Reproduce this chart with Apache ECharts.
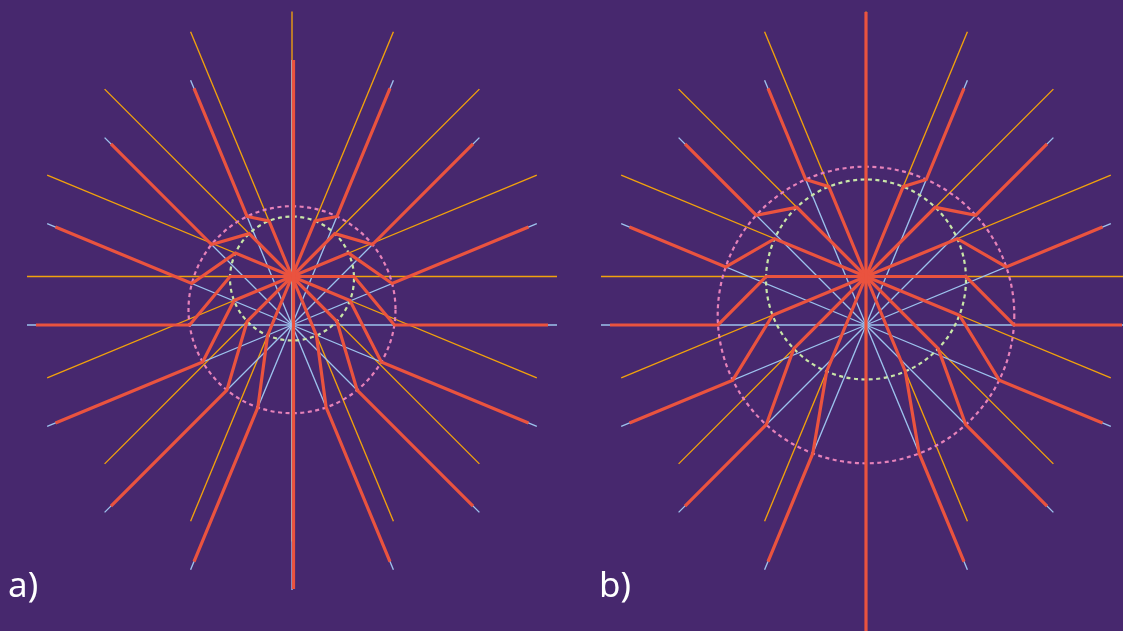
<!DOCTYPE html>
<html>
<head>
<meta charset="utf-8">
<title>Field lines of a charge that has stopped</title>
<script src="https://cdn.jsdelivr.net/npm/echarts@6/dist/echarts.min.js"></script>
<style>
  html, body { margin: 0; padding: 0; background: #47286e; }
  #chart { width: 1123px; height: 631px; }
</style>
</head>
<body>
<div id="chart"></div>
<script>
// Directions of the drawn field lines, degrees counter-clockwise from +x.
const rayAngles = [0, 22.5, 45, 67.5, 90, 112.5, 135, 157.5, 180, 202.5, 225, 247.5, 270, 292.5, 315, 337.5];
// Panel captions.
const panelLabels = ['a)', 'b)'];
// Units: origin at the extrapolated (uniform-motion) position, y up.
// Height of the actual (stopped) charge above the origin.
const chargeY = 48.5;
// Length of the rays from the stopped charge and from the extrapolated position.
const innerRayLength = 265;
const outerRayLength = 265;
// Length of the outer part of each field line, measured from the origin.
const fieldLineLength = 256;
// Inner sphere (information front of the stop): centre height and radius, per panel.
const innerCircleY = [46.5, 45.5];
const innerCircleR = [62, 100];
// Outer sphere (information front of the start of braking): centre height and radius, per panel.
const outerCircleY = [15.3, 10];
const outerCircleR = [103.5, 148.3];
// Vertical field line along the motion axis: x, lower end, upper end, per panel.
const axisLineX = [1.5, 0];
const axisLineBottom = [-264, -312];
const axisLineTop = [265, 313];

const colors = {
  bg: '#47286e',
  orange: '#f2a20c',
  blue: '#9dc3ee',
  red: '#ea533f',
  pink: '#e682ba',
  green: '#c9e6a8',
  text: '#ffffff'
};

// Point where a ray from P along unit vector d leaves the circle (C, r).
function rayCircle(P, d, C, r) {
  const fx = P[0] - C[0], fy = P[1] - C[1];
  const b = d[0] * fx + d[1] * fy;
  const c = fx * fx + fy * fy - r * r;
  const t = -b + Math.sqrt(b * b - c);
  return [P[0] + t * d[0], P[1] + t * d[1]];
}

function dir(deg) {
  const a = deg * Math.PI / 180;
  return [Math.cos(a), Math.sin(a)];
}

function panelSeries(p) {
  const U = [0, chargeY];
  const O = [0, 0];
  const innerC = [0, innerCircleY[p]];
  const outerC = [0, outerCircleY[p]];
  const orangeData = [], blueData = [], redData = [];
  rayAngles.forEach(function (deg) {
    const d = dir(deg);
    orangeData.push({ coords: [U, [U[0] + innerRayLength * d[0], U[1] + innerRayLength * d[1]]] });
    blueData.push({ coords: [O, [outerRayLength * d[0], outerRayLength * d[1]]] });
    if (deg === 90 || deg === 270) return;
    const p1 = rayCircle(U, d, innerC, innerCircleR[p]);
    const p2 = rayCircle(O, d, outerC, outerCircleR[p]);
    redData.push({ coords: [U, p1, p2, [fieldLineLength * d[0], fieldLineLength * d[1]]] });
  });
  redData.push({ coords: [[axisLineX[p], axisLineBottom[p]], [axisLineX[p], axisLineTop[p]]] });

  const base = {
    type: 'lines',
    coordinateSystem: 'cartesian2d',
    xAxisIndex: p,
    yAxisIndex: p,
    polyline: true,
    silent: true,
    clip: false,
    animation: false
  };
  return [
    Object.assign({}, base, { lineStyle: { color: colors.orange, width: 1.35, opacity: 1 }, data: orangeData }),
    Object.assign({}, base, { lineStyle: { color: colors.blue, width: 1.35, opacity: 1 }, data: blueData }),
    {
      type: 'custom',
      coordinateSystem: 'cartesian2d',
      xAxisIndex: p,
      yAxisIndex: p,
      silent: true,
      clip: false,
      animation: false,
      data: [
        [0, outerCircleY[p], outerCircleR[p], 0],
        [0, innerCircleY[p], innerCircleR[p], 1]
      ],
      renderItem: function (params, api) {
        const c = api.coord([api.value(0), api.value(1)]);
        const r = api.size([api.value(2), 0])[0];
        return {
          type: 'circle',
          shape: { cx: c[0], cy: c[1], r: r },
          style: {
            fill: 'none',
            stroke: api.value(3) === 0 ? colors.pink : colors.green,
            lineWidth: 2.2,
            lineDash: [4, 3.5]
          }
        };
      }
    },
    Object.assign({}, base, { lineStyle: { color: colors.red, width: 3.2, opacity: 1 }, data: redData })
  ];
}

const chart = echarts.init(document.getElementById('chart'), null, { renderer: 'canvas' });

const hiddenAxis = {
  type: 'value',
  show: false,
  splitLine: { show: false }
};

const labelStyle = { color: colors.text, fontSize: 35, fontWeight: 'normal', fontFamily: 'Noto Sans' };

chart.setOption({
  backgroundColor: colors.bg,
  animation: false,
  title: [
    { text: panelLabels[0], left: 8, top: 570, padding: 0, textStyle: labelStyle },
    { text: panelLabels[1], left: 599, top: 570, padding: 0, textStyle: labelStyle }
  ],
  grid: [
    { left: 0, top: 0, width: 561, height: 631, containLabel: false },
    { left: 561, top: 0, width: 562, height: 631, containLabel: false }
  ],
  xAxis: [
    Object.assign({ gridIndex: 0, min: -292, max: 269 }, hiddenAxis),
    Object.assign({ gridIndex: 1, min: -305, max: 257 }, hiddenAxis)
  ],
  yAxis: [
    Object.assign({ gridIndex: 0, min: -306, max: 325 }, hiddenAxis),
    Object.assign({ gridIndex: 1, min: -306, max: 325 }, hiddenAxis)
  ],
  series: panelSeries(0).concat(panelSeries(1))
});
</script>
</body>
</html>
